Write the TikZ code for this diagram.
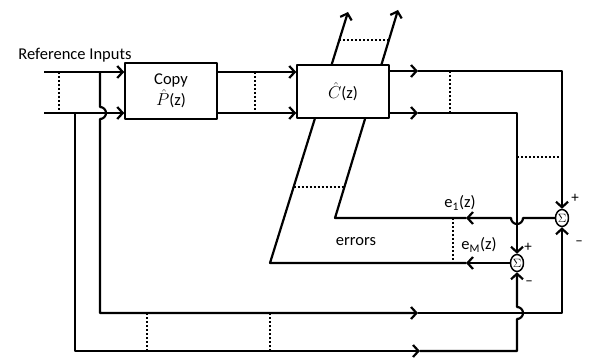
\documentclass[tikz,border=0pt]{standalone}
\usepackage{fontspec}
\setmainfont{Carlito}
\usetikzlibrary{arrows.meta,shapes.geometric}
\pgfdeclarelayer{bg}
\pgfsetlayers{bg,main}
\begin{document}
\begin{tikzpicture}[x=1pt,y=-1pt,
  line join=round,
  wire/.style={line width=2.2pt},
  arr/.style={wire,-{Straight Barb[length=5.5pt,width=12pt]}},
  dots/.style={line width=2pt,dash pattern=on 2pt off 2pt},
  blk/.style={draw,fill=white,line width=1.5pt,minimum width=92pt,inner sep=0pt,
    align=center,font=\fontsize{16.5}{19}\selectfont},
  sum/.style={draw,ellipse,fill=white,line width=1.5pt,minimum width=13pt,
    minimum height=17pt,inner sep=0pt,font=\fontsize{11.5}{11.5}\selectfont},
  lbl/.style={inner sep=0pt,font=\fontsize{16.5}{19}\selectfont},
  sgn/.style={inner sep=0pt,font=\fontsize{15}{15}\selectfont}]
\useasboundingbox (0,0) rectangle (589,358);

% blocks and summing junctions
\node[blk,minimum height=56pt] (copy) at (171,91) {Copy\\[1pt]$\hat{P}$(z)};
\node[blk,minimum height=53pt] (ctrl) at (343,91.5) {\raisebox{-6pt}{$\hat{C}$(z)}};
\node[sum] (s1) at (562,218) {$\Sigma$};
\node[sum] (s2) at (517,263) {$\Sigma$};

% labels
\node[lbl] (ref) at (75,55) {Reference Inputs};
\node[lbl] (e1) at (460,203) {e\textsubscript{1}(z)};
\node[lbl] (eM) at (479,245) {e\textsubscript{M}(z)};
\node[lbl] (err) at (356,242) {errors};
\node[sgn] (p1) at (575,198) {+};
\node[sgn] (m1) at (579,243) {\textendash};
\node[sgn] (p2) at (528,247) {+};
\node[sgn] (m2) at (529,283) {\textendash};

% free ends and corners
\coordinate (in1) at (44,72);
\coordinate (in2) at (44,113);
\coordinate (ta) at (100,72);
\coordinate (ha1) at (100,107);
\coordinate (ib) at (100,313);
\coordinate (itip) at (418,313);
\coordinate (ic) at (562,313);
\coordinate (tb) at (75,113);
\coordinate (ob) at (75,351);
\coordinate (otip) at (420,351);
\coordinate (oc) at (517,351);
\coordinate (hb1) at (517,319);
\coordinate (o1tip) at (418,71);
\coordinate (o1c) at (562,71);
\coordinate (o2tip) at (418,113);
\coordinate (o2c) at (517,113);
\coordinate (hc1) at (523,218);
\coordinate (e1tip) at (466,218);
\coordinate (e1c) at (335,218);
\coordinate (e1top) at (398,10);
\coordinate (eMtip) at (466,263);
\coordinate (eMc) at (270,263);
\coordinate (eMtop) at (348,12);

\begin{pgfonlayer}{bg}
\begin{scope}[line join=round]
% reference inputs into the copy block
\draw[arr] (in1) -- (in1 -| copy.west);
\draw[arr] (in2) -- (in2 -| copy.west);
\draw[dots] (59,72) -- (59,113);
% copy block to controller
\draw[arr] (copy.east |- in1) -- (ctrl.west |- in1);
\draw[arr] (copy.east |- in2) -- (ctrl.west |- in2);
\draw[dots] (255,72) -- (255,113);
% controller outputs down to the summing junctions
\draw[arr] (ctrl.east |- o1tip) -- (o1tip);
\draw[arr] (o1tip) -- (o1c) -- (s1.north);
\draw[arr] (ctrl.east |- o2tip) -- (o2tip);
\draw[arr] (o2tip) -- (o2c) -- (s2.north);
\draw[dots] (450,71) -- (450,113);
\draw[dots] (517,157) -- (562,157);
% inner feedback path
\draw[arr] (ta) -- (ha1) arc(-90:90:6) -- (ib) -- (itip);
\draw[arr] (itip) -- (ic) -- (s1.south);
% outer feedback path
\draw[arr] (tb) -- (ob) -- (otip);
\draw[arr] (otip) -- (oc) -- (hb1) arc(90:-90:6) -- (s2.south);
\draw[dots] (147,313) -- (147,351);
\draw[dots] (270,313) -- (270,351);
% error signals
\draw[arr] (s1.west) -- (hc1) arc(0:180:6) -- (e1tip);
\draw[arr] (e1tip) -- (e1c) -- (e1top);
\draw[arr] (s2.west) -- (eMtip);
\draw[arr] (eMtip) -- (eMc) -- (eMtop);
\draw[dots] (453,218) -- (453,263);
\draw[dots] (339.3,40) -- (388.9,40);
\draw[dots] (293.6,187) -- (344.4,187);
\end{scope}
\end{pgfonlayer}
\end{tikzpicture}
\end{document}
